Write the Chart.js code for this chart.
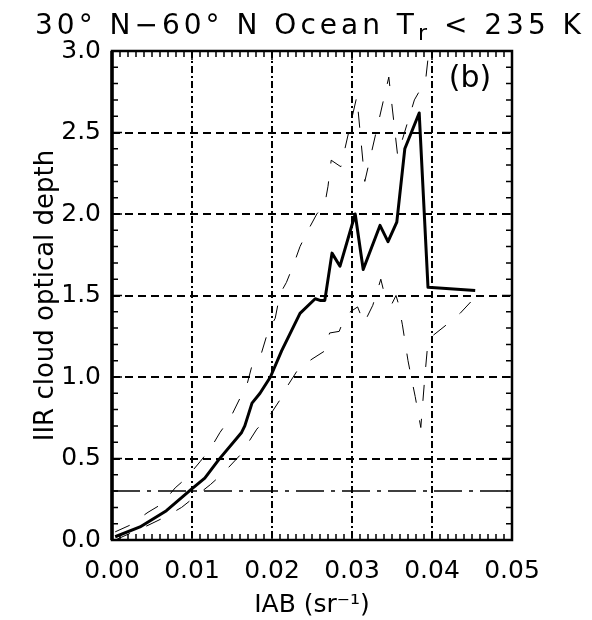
<!DOCTYPE html>
<html>
<head>
<meta charset="utf-8">
<script src="https://cdn.jsdelivr.net/npm/chart.js@4.4.1/dist/chart.umd.min.js"></script>
<style>
  body { margin: 0; background: #fff; }
  #wrap { position: relative; width: 592px; height: 620px; }
  #title {
    position: absolute; left: 14px; top: 11px; width: 592px;
    text-align: center; font: 28px "DejaVu Sans", sans-serif; line-height: 28px;
    letter-spacing: 4px; color: #000; white-space: nowrap;
  }
  #title sub { font-size: 22px; vertical-align: -6px; line-height: 0; }
</style>
</head>
<body>
<div id="wrap">
  <canvas id="chart" width="592" height="620"></canvas>
  <div id="title">30° N−60° N Ocean T<sub>r</sub> &lt; 235 K</div>
</div>
<script>
// mean curve (thick solid)
const meanX = [0.0004, 0.0035, 0.0068, 0.0099, 0.0116, 0.0133, 0.0162, 0.0166, 0.0175, 0.0185, 0.0198, 0.0212, 0.0235, 0.0254, 0.026, 0.0266, 0.0275, 0.0285, 0.0304, 0.0314, 0.0335, 0.0345, 0.0356, 0.0366, 0.0384, 0.0395, 0.0454];
const meanY = [0.02, 0.08, 0.18, 0.31, 0.38, 0.49, 0.66, 0.70, 0.84, 0.90, 1.00, 1.16, 1.39, 1.48, 1.47, 1.47, 1.76, 1.68, 2.00, 1.66, 1.93, 1.83, 1.95, 2.40, 2.62, 1.55, 1.53];

// upper bound (thin dashed)
const upperX = [0.0004, 0.0022, 0.0045, 0.0062, 0.0079, 0.0093, 0.011, 0.0123, 0.0135, 0.0148, 0.016, 0.0168, 0.0175, 0.0187, 0.0195, 0.0204, 0.021, 0.0218, 0.0227, 0.0235, 0.0245, 0.0256, 0.0266, 0.027, 0.0274, 0.0286, 0.0306, 0.0316, 0.0346, 0.0357, 0.0378, 0.0392, 0.0405, 0.0454];
const upperY = [0.05, 0.09, 0.17, 0.22, 0.32, 0.38, 0.48, 0.56, 0.66, 0.75, 0.87, 0.94, 1.07, 1.15, 1.28, 1.36, 1.51, 1.58, 1.69, 1.80, 1.90, 2.00, 2.06, 2.17, 2.33, 2.29, 2.72, 2.20, 2.84, 2.36, 2.70, 2.82, 3.40, 3.60];

// lower bound (thin dashed)
const lowerX = [0.0004, 0.0045, 0.0066, 0.0087, 0.0105, 0.0123, 0.0139, 0.016, 0.0168, 0.0181, 0.0198, 0.021, 0.022, 0.0233, 0.025, 0.0266, 0.0272, 0.0284, 0.0292, 0.0307, 0.0315, 0.0326, 0.0336, 0.0341, 0.035, 0.0355, 0.0358, 0.0363, 0.037, 0.0374, 0.0379, 0.0386, 0.0391, 0.0395, 0.040, 0.0418, 0.0435, 0.0454];
const lowerY = [0.00, 0.09, 0.14, 0.20, 0.27, 0.34, 0.41, 0.52, 0.58, 0.68, 0.77, 0.86, 0.95, 1.05, 1.11, 1.16, 1.27, 1.28, 1.38, 1.43, 1.33, 1.44, 1.60, 1.50, 1.45, 1.50, 1.45, 1.32, 1.10, 1.00, 0.88, 0.69, 1.00, 1.22, 1.25, 1.32, 1.39, 1.49];

// dash-dot reference level
const levelX = [0, 0.05];
const levelY = [0.3, 0.3];

const xRange = [0, 0.05];
const yRange = [0, 3];
const xStep = 0.01;
const yStep = 0.5;

function toPoints(xs, ys) {
  return xs.map((x, i) => ({ x: x, y: ys[i] }));
}

// frame, inward ticks and panel letter
const framePlugin = {
  id: "frame",
  afterDatasetsDraw(chart) {
    const { ctx, chartArea: a, scales } = chart;
    const xs = scales.x, ys = scales.y;
    ctx.save();
    ctx.strokeStyle = "#000";
    ctx.lineWidth = 1.5;
    ctx.beginPath();
    for (let i = 0; i <= 50; i++) {
      const px = xs.getPixelForValue(i / 1000);
      const len = i % 10 === 0 ? 9 : 6;
      ctx.moveTo(px, a.bottom); ctx.lineTo(px, a.bottom - len);
      ctx.moveTo(px, a.top); ctx.lineTo(px, a.top + len);
    }
    for (let i = 0; i <= 30; i++) {
      const py = ys.getPixelForValue(i / 10);
      const len = i % 5 === 0 ? 10 : 6;
      ctx.moveTo(a.left, py); ctx.lineTo(a.left + len, py);
      ctx.moveTo(a.right, py); ctx.lineTo(a.right - len, py);
    }
    ctx.stroke();
    ctx.lineWidth = 2.5;
    ctx.strokeRect(a.left, a.top, a.right - a.left, a.bottom - a.top);
    // left axis is drawn a bit heavier
    ctx.lineWidth = 3.5;
    ctx.beginPath();
    ctx.moveTo(a.left, a.top);
    ctx.lineTo(a.left, a.bottom);
    ctx.stroke();
    ctx.fillStyle = "#000";
    ctx.font = '30px "DejaVu Sans"';
    ctx.textAlign = "center";
    ctx.textBaseline = "middle";
    ctx.fillText("(b)", a.right - 42, a.top + 28);
    ctx.restore();
  }
};

const tickFont = { family: "DejaVu Sans", size: 25 };

new Chart(document.getElementById("chart"), {
  type: "line",
  data: {
    datasets: [
      {
        data: toPoints(levelX, levelY),
        borderColor: "#000",
        borderWidth: 1.5,
        borderDash: [28, 7, 4, 7],
        pointRadius: 0,
      },
      {
        data: toPoints(upperX, upperY),
        borderColor: "#000",
        borderWidth: 1,
        borderDash: [16, 18],
        pointRadius: 0,
      },
      {
        data: toPoints(lowerX, lowerY),
        borderColor: "#000",
        borderWidth: 1,
        borderDash: [16, 18],
        pointRadius: 0,
      },
      {
        data: toPoints(meanX, meanY),
        borderColor: "#000",
        borderWidth: 3,
        borderJoinStyle: "round",
        pointRadius: 0,
      },
    ],
  },
  options: {
    responsive: false,
    animation: false,
    layout: { padding: { left: 0, right: 80, top: 51, bottom: 0 } },
    plugins: {
      legend: { display: false },
      tooltip: { enabled: false },
    },
    scales: {
      x: {
        type: "linear",
        min: xRange[0],
        max: xRange[1],
        afterFit: (s) => { s.height = 80; },
        grid: { color: "#000", lineWidth: 2, drawTicks: false },
        border: { display: false, dash: [7, 3, 2, 3] },
        ticks: {
          stepSize: xStep,
          padding: 16,
          color: "#000",
          font: tickFont,
          maxRotation: 0,
          callback: (v) => v.toFixed(2),
        },
        title: {
          display: true,
          text: "IAB (sr⁻¹)",
          color: "#000",
          font: tickFont,
          padding: { top: 0, bottom: 0 },
        },
      },
      y: {
        min: yRange[0],
        max: yRange[1],
        afterFit: (s) => { s.width = 112; },
        grid: { color: "#000", lineWidth: 2, drawTicks: false },
        border: { display: false, dash: [8, 5] },
        ticks: {
          stepSize: yStep,
          padding: 11,
          color: "#000",
          font: tickFont,
          callback: (v) => v.toFixed(1),
        },
        title: {
          display: true,
          text: "IIR cloud optical depth",
          color: "#000",
          font: { family: "DejaVu Sans", size: 26 },
          padding: { top: 31, bottom: 0 },
        },
      },
    },
  },
  plugins: [framePlugin],
});
</script>
</body>
</html>
